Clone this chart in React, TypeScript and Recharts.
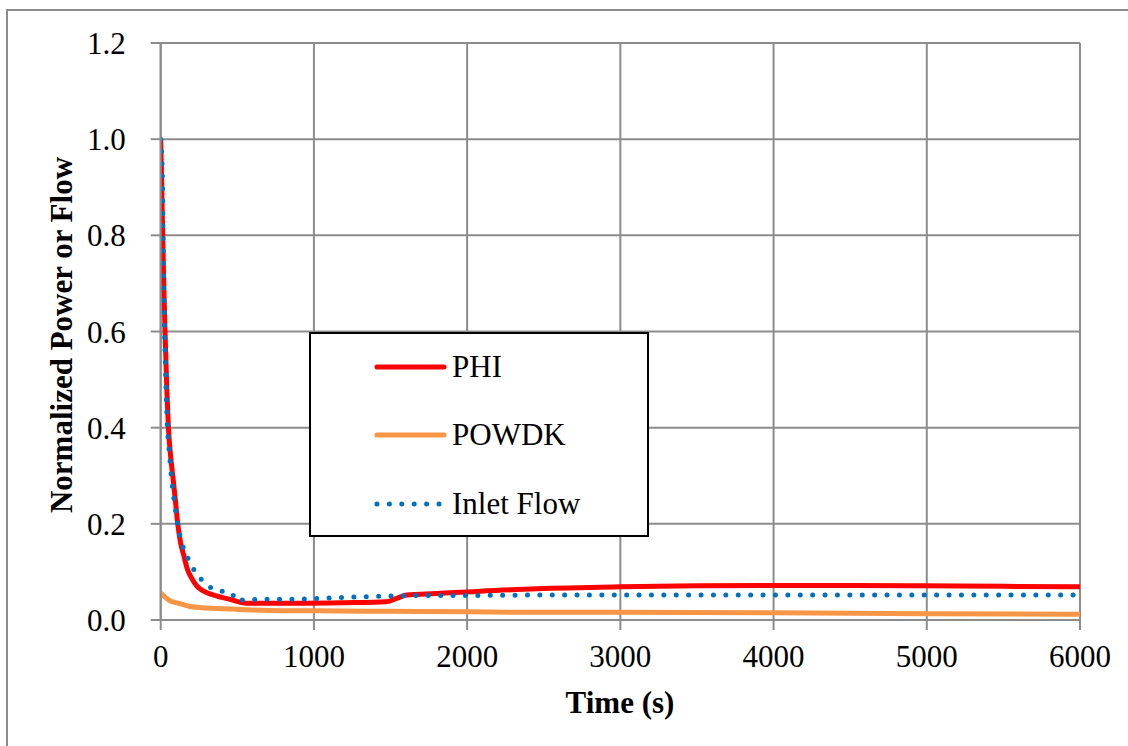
import React from "react";
import { CartesianGrid, Line, LineChart, XAxis, YAxis } from "recharts";

const FONT = "'Liberation Serif', 'Times New Roman', serif";
const GRID = "#8c8c8c";

const X_TICKS = [0, 1000, 2000, 3000, 4000, 5000, 6000];
const Y_TICKS = [0, 0.2, 0.4, 0.6, 0.8, 1.0, 1.2];

// PHI (normalized power)
const PHI_T = [0, 5, 10, 20, 28, 40, 50, 65, 82, 100, 111, 130, 150, 175, 200, 235, 280, 343, 400, 452, 520, 560, 700, 950, 1200, 1475, 1540, 1606, 1800, 2040, 2454, 3000, 3500, 3960, 4500, 4960, 5500, 6000];
const PHI_V = [1.0, 0.93, 0.85, 0.7, 0.603, 0.48, 0.402, 0.34, 0.291, 0.235, 0.201, 0.16, 0.135, 0.105, 0.088, 0.071, 0.06, 0.052, 0.047, 0.043, 0.037, 0.035, 0.035, 0.035, 0.036, 0.038, 0.045, 0.052, 0.055, 0.059, 0.065, 0.069, 0.071, 0.072, 0.072, 0.071, 0.07, 0.069];

// POWDK (decay heat)
const POWDK_T = [0, 30, 61, 100, 126, 191, 300, 518, 700, 1000, 1500, 2000, 2454, 3000, 4000, 5000, 6000];
const POWDK_V = [0.056, 0.047, 0.04, 0.036, 0.034, 0.028, 0.025, 0.022, 0.02, 0.019, 0.018, 0.017, 0.016, 0.016, 0.015, 0.013, 0.012];

// Inlet flow
const FLOW_T = [0, 8, 13, 17, 24, 39, 61, 93, 126, 160, 191, 225, 257, 300, 333, 400, 452, 475, 485, 561, 700, 866, 1105, 1300, 1500, 1700, 2000, 2500, 3000, 4000, 5000, 6000];
const FLOW_V = [1.0, 0.96, 0.88, 0.75, 0.62, 0.44, 0.33, 0.236, 0.175, 0.14, 0.121, 0.1, 0.087, 0.075, 0.066, 0.06, 0.057, 0.05, 0.041, 0.042, 0.043, 0.043, 0.046, 0.048, 0.05, 0.051, 0.051, 0.052, 0.052, 0.052, 0.052, 0.052];

const SERIES = [
  { name: "PHI", color: "#FF0000", dash: undefined as string | undefined },
  { name: "POWDK", color: "#F79646", dash: undefined as string | undefined },
  { name: "Inlet Flow", color: "#0070C0", dash: "0 12.4" },
];

const toPoints = (ts: number[], vs: number[]) => ts.map((t, i) => ({ t, v: vs[i] }));

const phi = toPoints(PHI_T, PHI_V);
const powdk = toPoints(POWDK_T, POWDK_V);
const flow = toPoints(FLOW_T, FLOW_V);

function LegendBox() {
  const rows = [35, 103, 172];
  return (
    <svg width={340} height={205} style={{ display: "block" }}>
      <rect x={1} y={1} width={338} height={203} fill="#fff" stroke="#000" strokeWidth={2} />
      {SERIES.map((s, i) => (
        <g key={s.name}>
          <line
            x1={68}
            x2={135}
            y1={rows[i]}
            y2={rows[i]}
            stroke={s.color}
            strokeWidth={5}
            strokeLinecap="round"
            strokeDasharray={s.dash}
          />
          <text x={143} y={rows[i] + 10} style={{ fontFamily: FONT, fontSize: 31 }} fill="#000">
            {s.name}
          </text>
        </g>
      ))}
    </svg>
  );
}

export default function App() {
  const tickStyle = { fontSize: 31, fill: "#000", style: { fontFamily: FONT } };
  return (
    <div
      style={{
        position: "absolute",
        left: 0,
        top: 0,
        width: 1128,
        height: 746,
        background: "#fff",
        overflow: "hidden",
        fontFamily: FONT,
      }}
    >
      <div
        style={{
          position: "absolute",
          left: 6,
          top: 9,
          width: 1140,
          height: 760,
          border: "2px solid #8c8c8c",
        }}
      />
      <LineChart
        width={1128}
        height={746}
        margin={{ top: 43, right: 48, bottom: 66, left: 0 }}
        style={{ position: "absolute", left: 0, top: 0, fontFamily: FONT }}
      >
        <CartesianGrid stroke={GRID} strokeWidth={2} />
        <XAxis
          type="number"
          dataKey="t"
          domain={[0, 6000]}
          ticks={X_TICKS}
          height={60}
          tickSize={10}
          tickMargin={15}
          stroke={GRID}
          strokeWidth={2}
          tick={tickStyle}
          allowDataOverflow
        />
        <YAxis
          type="number"
          domain={[0, 1.2]}
          ticks={Y_TICKS}
          width={160.7}
          tickSize={10}
          tickMargin={25}
          stroke={GRID}
          strokeWidth={2}
          tick={tickStyle}
          tickFormatter={(v: number) => v.toFixed(1)}
        />
        <Line
          data={powdk}
          dataKey="v"
          name="POWDK"
          type="monotone"
          stroke="#F79646"
          strokeWidth={5}
          dot={false}
          isAnimationActive={false}
        />
        <Line
          data={phi}
          dataKey="v"
          name="PHI"
          type="monotone"
          stroke="#FF0000"
          strokeWidth={5}
          dot={false}
          isAnimationActive={false}
        />
        <Line
          data={flow}
          dataKey="v"
          name="Inlet Flow"
          type="monotone"
          stroke="#0070C0"
          strokeWidth={5}
          strokeDasharray="0 12.4"
          strokeLinecap="round"
          dot={false}
          isAnimationActive={false}
        />
      </LineChart>
      <div style={{ position: "absolute", left: 309, top: 332 }}>
        <LegendBox />
      </div>
      <svg
        width={1128}
        height={746}
        style={{ position: "absolute", left: 0, top: 0, pointerEvents: "none" }}
      >
        <text x={620} y={713} textAnchor="middle" style={{ fontFamily: FONT, fontSize: 31, fontWeight: "bold" }}>
          Time (s)
        </text>
        <text
          x={72}
          y={335}
          textAnchor="middle"
          style={{ fontFamily: FONT, fontSize: 31, fontWeight: "bold" }}
          transform="rotate(-90, 72, 335)"
        >
          Normalized Power or Flow
        </text>
      </svg>
    </div>
  );
}
